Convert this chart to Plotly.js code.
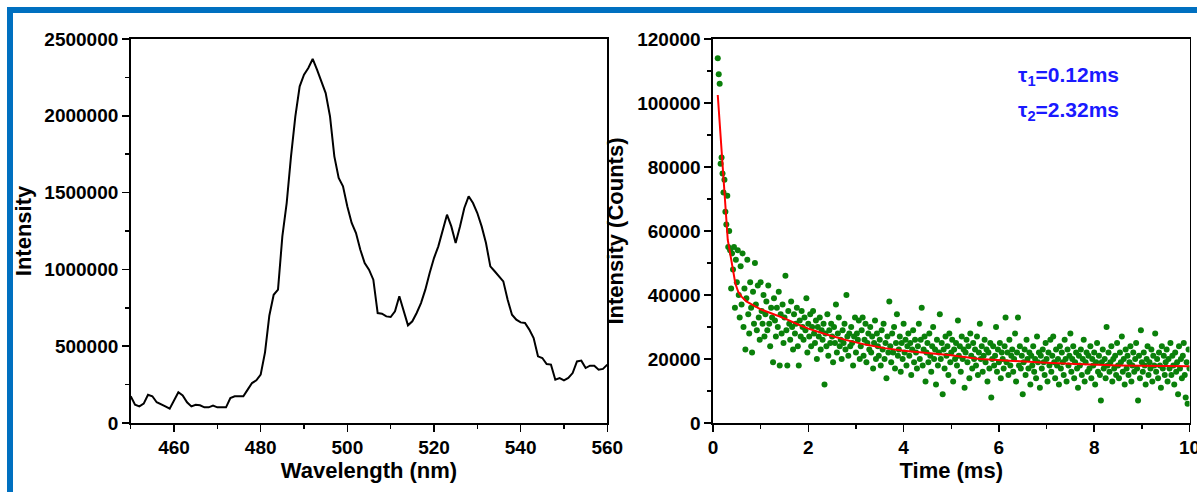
<!DOCTYPE html>
<html><head><meta charset="utf-8">
<script src="https://cdn.plot.ly/plotly-3.0.1.min.js"></script>
<style>html,body{margin:0;padding:0;background:#fff;} #plot{width:1197px;height:492px;}</style>
</head><body><div id="plot"></div><script>
// ---- Left panel: emission spectrum ----
const wavelength = [450,451,452,453,454,455,456,457,458,459,460,461,462,463,464,465,466,467,468,469,470,471,472,473,474,475,476,477,478,479,480,481,482,483,484,485,486,487,488,489,490,491,492,493,494,495,496,497,498,499,500,501,502,503,504,505,506,507,508,509,510,511,512,513,514,515,516,517,518,519,520,521,522,523,524,525,526,527,528,529,530,531,532,533,534,535,536,537,538,539,540,541,542,543,544,545,546,547,548,549,550,551,552,553,554,555,556,557,558,559,560];
const intensity = [174000,119000,108000,126000,184000,174000,135000,119000,108000,93000,152000,200000,180000,135000,108000,119000,115000,102000,102000,113000,102000,102000,102000,163000,174000,174000,174000,217000,260000,278000,315000,460000,700000,835000,868000,1215000,1432000,1736000,1996000,2192000,2268000,2311000,2370000,2300000,2224000,2148000,1996000,1736000,1595000,1541000,1410000,1302000,1237000,1128000,1042000,998000,933000,716000,712000,694000,690000,727000,825000,738000,636000,662000,716000,781000,868000,977000,1074000,1150000,1259000,1356000,1280000,1172000,1280000,1400000,1476000,1432000,1367000,1280000,1172000,1020000,988000,955000,922000,803000,705000,673000,655000,651000,608000,553000,434000,423000,384000,380000,282000,293000,278000,293000,325000,401000,406000,358000,373000,373000,347000,352000,380000];

// ---- Right panel: decay curve (sampled every 0.02 ms from 0.10 ms) ----
const decayStart = 0.10, decayStep = 0.02;
const decayCounts = [
114000,109000,106000,81000,83000,78000,72000,76000,66000,62000,
71000,55000,60000,54000,42000,53000,48000,55000,36000,51000,
44000,54000,40000,33000,49000,37000,53000,30000,42000,23000,
39000,51000,34000,28000,44000,36000,22000,41000,31000,50000,
37000,29000,43000,33000,26000,44000,35000,31000,40000,27000,
34000,38000,29000,43000,31000,24000,36000,33000,19000,39000,
32000,27000,36000,30000,41000,18000,34000,28000,37000,25000,
33000,46000,29000,18000,35000,31000,26000,38000,30000,23000,
34000,28000,31000,36000,24000,18000,32000,27000,35000,30000,
26000,33000,29000,39000,22000,31000,27000,34000,24000,30000,
35000,28000,25000,32000,20000,30000,27000,33000,23000,29000,
26000,31000,12000,28000,24000,34000,21000,29000,25000,31000,
27000,19000,30000,25000,37000,22000,28000,33000,24000,26000,
20000,29000,25000,31000,23000,40000,27000,21000,28000,24000,
30000,25000,18000,27000,33000,22000,28000,26000,32000,20000,
24000,29000,33000,21000,26000,31000,19000,25000,28000,23000,
30000,22000,27000,17000,25000,32000,20000,28000,24000,21000,
26000,18000,29000,23000,31000,20000,25000,14000,27000,22000,
38000,24000,19000,28000,22000,30000,17000,25000,34000,21000,
23000,27000,16000,25000,20000,31000,22000,26000,18000,24000,
28000,21000,25000,15000,23000,29000,19000,26000,22000,17000,
24000,31000,20000,26000,36000,18000,23000,27000,13000,22000,
25000,19000,28000,21000,16000,24000,30000,20000,23000,12000,
26000,18000,22000,34000,20000,25000,9000,23000,17000,27000,
21000,24000,15000,28000,19000,22000,26000,13000,23000,20000,
25000,18000,32000,21000,24000,16000,27000,20000,23000,11000,
22000,26000,19000,24000,14000,28000,21000,17000,25000,20000,
23000,18000,27000,15000,22000,31000,20000,24000,16000,21000,
26000,19000,23000,13000,22000,17000,25000,8000,20000,24000,
18000,21000,30000,16000,23000,19000,25000,14000,22000,20000,
17000,24000,33000,19000,22000,15000,26000,18000,21000,23000,
16000,20000,28000,13000,22000,33000,18000,24000,17000,21000,
9000,19000,23000,15000,26000,20000,17000,22000,12000,21000,
18000,24000,16000,20000,14000,27000,19000,22000,11000,21000,
17000,23000,19000,15000,25000,20000,13000,22000,18000,26000,
16000,21000,27000,19000,14000,23000,18000,20000,12000,24000,
17000,22000,19000,15000,26000,20000,13000,23000,18000,21000,
28000,16000,20000,24000,14000,19000,22000,17000,11000,21000,
18000,23000,15000,20000,26000,13000,19000,22000,16000,21000,
17000,24000,14000,20000,18000,22000,12000,19000,25000,16000,
21000,15000,7000,19000,23000,17000,20000,14000,30000,18000,
22000,16000,19000,24000,13000,20000,17000,21000,15000,25000,
18000,14000,22000,19000,27000,16000,20000,12000,23000,17000,
21000,15000,19000,24000,13000,18000,22000,16000,20000,25000,
17000,7000,21000,14000,29000,19000,16000,22000,18000,12000,
20000,24000,15000,19000,17000,23000,13000,21000,18000,28000,
16000,20000,14000,22000,18000,11000,24000,17000,21000,15000,
19000,23000,13000,20000,17000,25000,15000,21000,18000,12000,
22000,16000,19000,9000,24000,17000,20000,14000,21000,25000,
15000,8000,19000,6000,23000,17000];
const decayTime = decayCounts.map((_, i) => +(decayStart + decayStep * i).toFixed(2));

// fitted bi-exponential curve
const fitTime = [0.1,0.13,0.17,0.2,0.24,0.28,0.31,0.36,0.43,0.47,0.53,0.6,0.7,0.82,1.0,1.22,1.5,1.8,2.0,2.4,2.8,3.2,3.6,4.0,4.5,5.0,5.6,6.0,6.5,7.0,7.5,8.0,8.5,9.0,9.5,10];
const fitCounts = [102500,95700,88400,80100,69700,63400,57200,53000,46000,43500,41000,39500,38000,36900,35500,34300,32700,30700,29500,27600,25900,24500,23400,22600,21800,21200,20000,19600,19200,18800,18500,18200,18000,17900,17800,17700];

const tauLabels = ['τ<sub>1</sub>=0.12ms', 'τ<sub>2</sub>=2.32ms'];

// ---- Layout helpers ----
const W = 1197, H = 492;
const fx = p => p / W, fy = p => 1 - p / H;
const FONT = 'Liberation Sans, Arial, sans-serif';

function axisStyle(extra) {
  return Object.assign({
    showline: true, linecolor: '#000', linewidth: 1.6, mirror: true,
    ticks: 'outside', ticklen: 7, tickwidth: 1.5, tickcolor: '#000',
    showgrid: false, zeroline: false, tickformat: 'd', ticklabeloverflow: 'allow',
    tickfont: {family: FONT, size: 19, color: '#000', weight: 'bold'},
    fixedrange: true
  }, extra);
}
function minor(d) { return {dtick: d, ticks: 'outside', ticklen: 4, tickwidth: 1.5, tickcolor: '#000', showgrid: false}; }
function ttl(t, s) { return {text: t, font: {family: FONT, size: 22, color: '#000', weight: 'bold'}, standoff: s}; }

const traces = [
  {x: wavelength, y: intensity, type: 'scatter', mode: 'lines', line: {color: '#000', width: 2}, xaxis: 'x', yaxis: 'y', hoverinfo: 'skip'},
  {x: decayTime, y: decayCounts, type: 'scatter', mode: 'markers', marker: {color: '#0a800a', size: 6}, xaxis: 'x2', yaxis: 'y2', hoverinfo: 'skip'},
  {x: fitTime, y: fitCounts, type: 'scatter', mode: 'lines', line: {color: '#ff0000', width: 2}, xaxis: 'x2', yaxis: 'y2', hoverinfo: 'skip'}
];

const layout = {
  width: W, height: H, showlegend: false,
  margin: {l: 0, r: 0, t: 0, b: 0},
  paper_bgcolor: '#fff', plot_bgcolor: '#fff',
  xaxis: axisStyle({domain: [fx(130.7), fx(607.3)], range: [450, 560], dtick: 20, tick0: 460, minor: minor(10), anchor: 'y', title: ttl('Wavelength (nm)', 1)}),
  yaxis: axisStyle({domain: [fy(423), fy(39)], range: [0, 2500000], dtick: 500000, minor: minor(250000), anchor: 'x', title: ttl('Intensity', 6)}),
  xaxis2: axisStyle({domain: [fx(713), fx(1189.5)], range: [0, 10], dtick: 2, minor: minor(1), anchor: 'y2', title: ttl('Time (ms)', 0)}),
  yaxis2: axisStyle({domain: [fy(423), fy(39)], range: [0, 120000], dtick: 20000, minor: minor(10000), anchor: 'x2', title: ttl('Intensity (Counts)', 7)}),
  annotations: tauLabels.map((t, i) => ({
    text: t, xref: 'paper', yref: 'paper', x: fx(1016), y: fy(i === 0 ? 76 : 111),
    xanchor: 'left', yanchor: 'middle', showarrow: false,
    font: {family: FONT, size: 21, color: '#1a1aff', weight: 'bold'}
  })),
  shapes: [
    {type: 'rect', xref: 'paper', yref: 'paper', x0: fx(7), x1: 1, y0: fy(13), y1: fy(7), fillcolor: '#0070c0', line: {width: 0}, layer: 'above'},
    {type: 'rect', xref: 'paper', yref: 'paper', x0: fx(7), x1: fx(13), y0: 0, y1: fy(7), fillcolor: '#0070c0', line: {width: 0}, layer: 'above'}
  ]
};

Plotly.newPlot('plot', traces, layout, {displayModeBar: false, staticPlot: true});
</script></body></html>
